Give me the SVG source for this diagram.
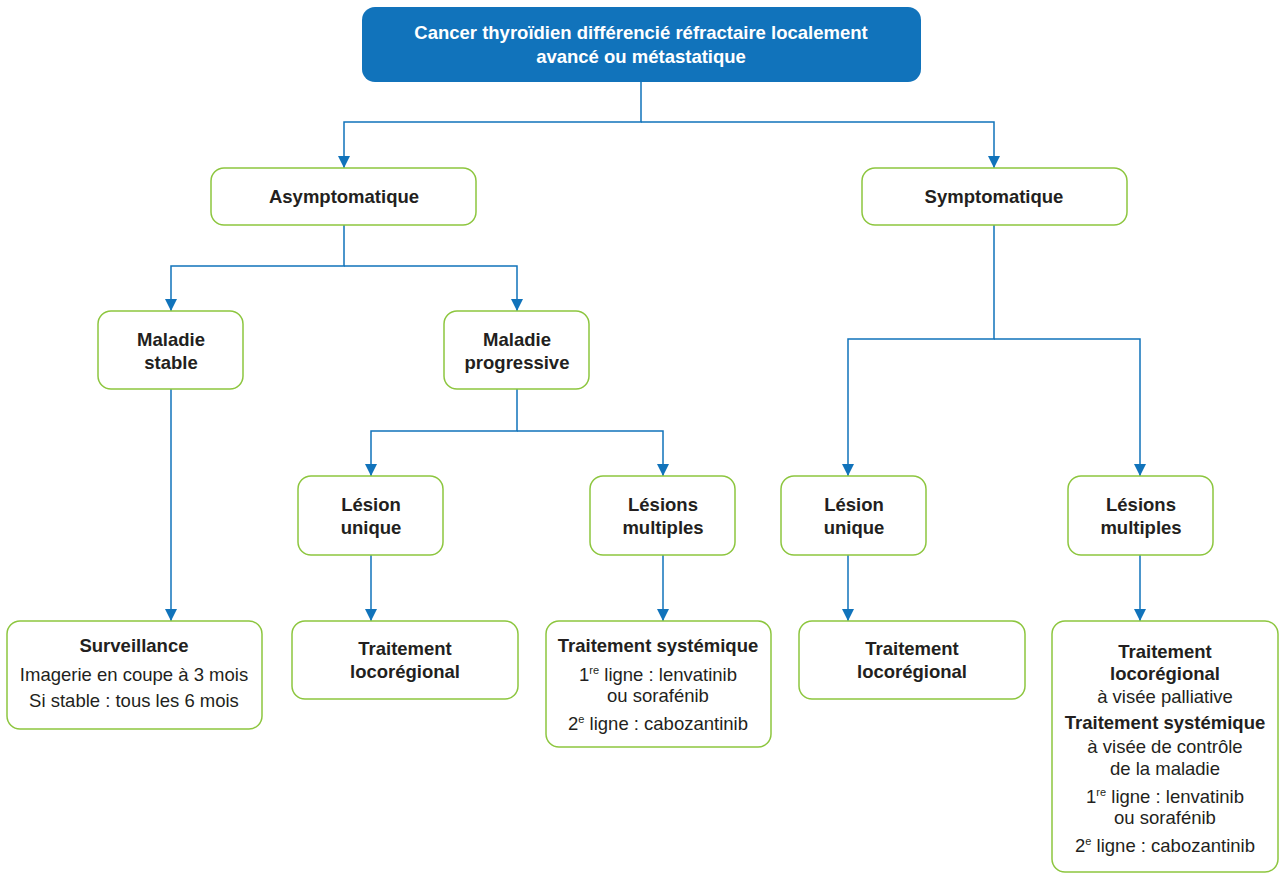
<svg xmlns="http://www.w3.org/2000/svg" width="1281" height="874" viewBox="0 0 1281 874">
  <style>
    .box { fill: #ffffff; stroke: #8dc63f; stroke-width: 1.5; }
    .head { fill: #1173bb; }
    .link { fill: none; stroke: #1173bb; stroke-width: 1.5; }
    text { font-family: "Liberation Sans", Arial, sans-serif; font-size: 18.5px; fill: #231f20; text-anchor: middle; }
    .b { font-weight: bold; }
    .w { fill: #ffffff; font-weight: bold; }
    .sup { font-size: 11px; }
  </style>
  <defs>
    <marker id="arrow" viewBox="0 0 12 12" refX="12" refY="6" markerWidth="12" markerHeight="12" markerUnits="userSpaceOnUse" orient="auto">
      <path d="M0,0 L12,6 L0,12 Z" fill="#1173bb"/>
    </marker>
  </defs>

  <g id="connectors">
    <path class="link" d="M641,82 V122 H344 V168" marker-end="url(#arrow)"/>
    <path class="link" d="M641,122 H994 V168" marker-end="url(#arrow)"/>
    <path class="link" d="M344,225 V266 H171 V311" marker-end="url(#arrow)"/>
    <path class="link" d="M344,266 H517 V311" marker-end="url(#arrow)"/>
    <path class="link" d="M171,389 V621" marker-end="url(#arrow)"/>
    <path class="link" d="M517,389 V431 H371 V476" marker-end="url(#arrow)"/>
    <path class="link" d="M517,431 H663 V476" marker-end="url(#arrow)"/>
    <path class="link" d="M371,555 V621" marker-end="url(#arrow)"/>
    <path class="link" d="M663,555 V621" marker-end="url(#arrow)"/>
    <path class="link" d="M994,225 V339 H848 V476" marker-end="url(#arrow)"/>
    <path class="link" d="M994,339 H1140 V476" marker-end="url(#arrow)"/>
    <path class="link" d="M848,555 V621" marker-end="url(#arrow)"/>
    <path class="link" d="M1140,555 V621" marker-end="url(#arrow)"/>
  </g>

  <g id="root">
    <rect class="head" x="362" y="7" width="559" height="75" rx="13"/>
    <text class="w" x="641" y="39">Cancer thyroïdien différencié réfractaire localement</text>
    <text class="w" x="641" y="63">avancé ou métastatique</text>
  </g>

  <g id="asymptomatique">
    <rect class="box" x="211" y="168" width="265" height="57" rx="13"/>
    <text class="b" x="344" y="203">Asymptomatique</text>
  </g>

  <g id="symptomatique">
    <rect class="box" x="862" y="168" width="265" height="57" rx="13"/>
    <text class="b" x="994" y="203">Symptomatique</text>
  </g>

  <g id="maladie-stable">
    <rect class="box" x="98" y="311" width="145" height="78" rx="13"/>
    <text class="b" x="171" y="346">Maladie</text>
    <text class="b" x="171" y="369">stable</text>
  </g>

  <g id="maladie-progressive">
    <rect class="box" x="444" y="311" width="145" height="78" rx="13"/>
    <text class="b" x="517" y="346">Maladie</text>
    <text class="b" x="517" y="369">progressive</text>
  </g>

  <g id="lesion-unique-a">
    <rect class="box" x="298" y="476" width="145" height="79" rx="13"/>
    <text class="b" x="371" y="511">Lésion</text>
    <text class="b" x="371" y="534">unique</text>
  </g>

  <g id="lesions-multiples-a">
    <rect class="box" x="590" y="476" width="145" height="79" rx="13"/>
    <text class="b" x="663" y="511">Lésions</text>
    <text class="b" x="663" y="534">multiples</text>
  </g>

  <g id="lesion-unique-s">
    <rect class="box" x="781" y="476" width="145" height="79" rx="13"/>
    <text class="b" x="854" y="511">Lésion</text>
    <text class="b" x="854" y="534">unique</text>
  </g>

  <g id="lesions-multiples-s">
    <rect class="box" x="1068" y="476" width="145" height="79" rx="13"/>
    <text class="b" x="1141" y="511">Lésions</text>
    <text class="b" x="1141" y="534">multiples</text>
  </g>

  <g id="surveillance">
    <rect class="box" x="7" y="621" width="255" height="108" rx="13"/>
    <text class="b" x="134" y="652">Surveillance</text>
    <text x="134" y="681">Imagerie en coupe à 3 mois</text>
    <text x="134" y="707">Si stable : tous les 6 mois</text>
  </g>

  <g id="locoregional-a">
    <rect class="box" x="292" y="621" width="226" height="78" rx="13"/>
    <text class="b" x="405" y="655">Traitement</text>
    <text class="b" x="405" y="678">locorégional</text>
  </g>

  <g id="systemique-a">
    <rect class="box" x="546" y="621" width="225" height="126" rx="13"/>
    <text class="b" x="658" y="652">Traitement systémique</text>
    <text x="658" y="681">1<tspan class="sup" dy="-7">re</tspan><tspan dy="7"> ligne : lenvatinib</tspan></text>
    <text x="658" y="702">ou sorafénib</text>
    <text x="658" y="730">2<tspan class="sup" dy="-7">e</tspan><tspan dy="7"> ligne : cabozantinib</tspan></text>
  </g>

  <g id="locoregional-s">
    <rect class="box" x="799" y="621" width="226" height="78" rx="13"/>
    <text class="b" x="912" y="655">Traitement</text>
    <text class="b" x="912" y="678">locorégional</text>
  </g>

  <g id="palliatif-s">
    <rect class="box" x="1052" y="621" width="226" height="251" rx="13"/>
    <text class="b" x="1165" y="658">Traitement</text>
    <text class="b" x="1165" y="680">locorégional</text>
    <text x="1165" y="703">à visée palliative</text>
    <text class="b" x="1165" y="729">Traitement systémique</text>
    <text x="1165" y="753">à visée de contrôle</text>
    <text x="1165" y="775">de la maladie</text>
    <text x="1165" y="803">1<tspan class="sup" dy="-7">re</tspan><tspan dy="7"> ligne : lenvatinib</tspan></text>
    <text x="1165" y="824">ou sorafénib</text>
    <text x="1165" y="852">2<tspan class="sup" dy="-7">e</tspan><tspan dy="7"> ligne : cabozantinib</tspan></text>
  </g>
</svg>
